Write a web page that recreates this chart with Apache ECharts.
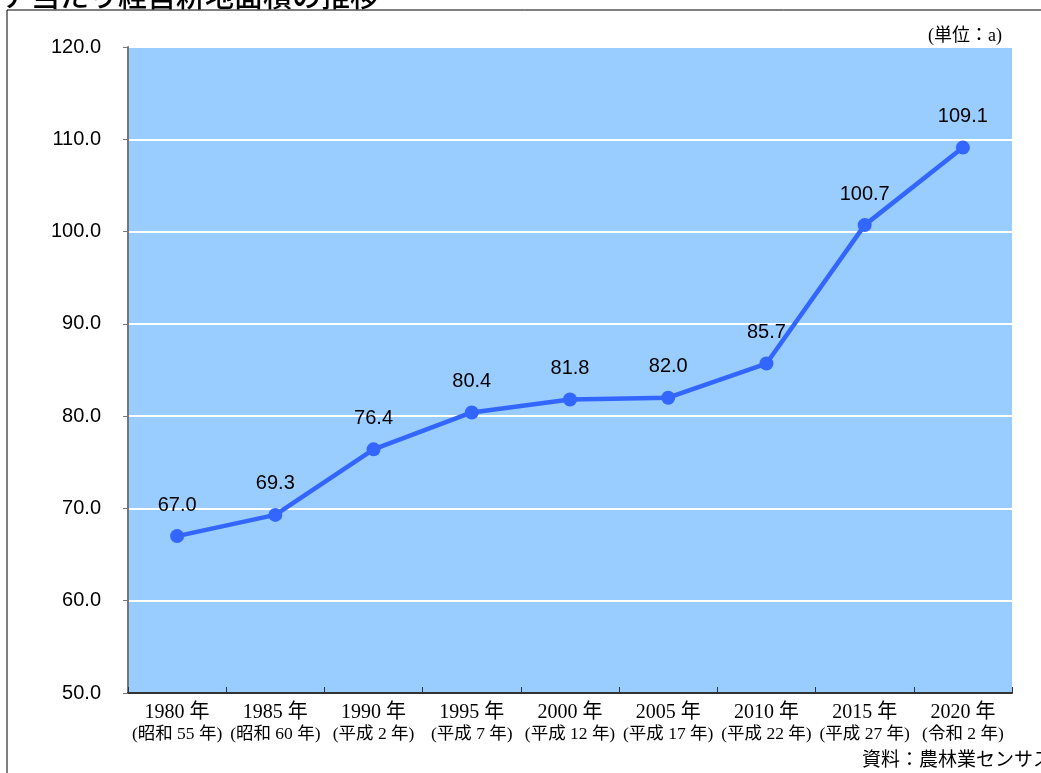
<!DOCTYPE html>
<html>
<head>
<meta charset="utf-8">
<script src="https://cdn.jsdelivr.net/npm/echarts@6/dist/echarts.min.js"></script>
<style>
  html, body { margin: 0; padding: 0; background: #fff; overflow: hidden; }
  #main { width: 1041px; height: 773px; }
</style>
</head>
<body>
<div id="main"></div>
<script>
// 1経営体当たり経営耕地面積の推移 (単位: a)
var years = ['1980 年', '1985 年', '1990 年', '1995 年', '2000 年', '2005 年', '2010 年', '2015 年', '2020 年']
var eras = ['(昭和 55 年)', '(昭和 60 年)', '(平成 2 年)', '(平成 7 年)', '(平成 12 年)', '(平成 17 年)', '(平成 22 年)', '(平成 27 年)', '(令和 2 年)']
var area = [67.0, 69.3, 76.4, 80.4, 81.8, 82.0, 85.7, 100.7, 109.1]

var categories = years.map(function (y, i) { return y + '\n' + eras[i] })

var chart = echarts.init(document.getElementById('main'))
var serif = '"Liberation Serif", "DejaVu Serif", "Noto Sans CJK JP", serif'
var sans = 'Arial, "Liberation Sans", "Noto Sans CJK JP", sans-serif'

var option = {
  animation: false,
  backgroundColor: '#fff',
  graphic: [
    {
      type: 'rect',
      shape: { x: 7, y: 10, width: 1100, height: 800 },
      style: { fill: 'none', stroke: '#000', lineWidth: 1 }
    },
    {
      type: 'text',
      left: 2,
      top: -19,
      style: { text: 'ア当たり経営耕地面積の推移', font: '500 29px "Noto Sans CJK JP", sans-serif', fill: '#000' }
    },
    {
      type: 'text',
      left: 928,
      top: 27,
      style: { text: '(単位：a)', font: '18px ' + serif, fill: '#000' }
    },
    {
      type: 'text',
      left: 862,
      top: 752,
      style: { text: '資料：農林業センサス', font: '19px ' + serif, fill: '#000' }
    }
  ],
  grid: {
    left: 128,
    right: 29,
    top: 47,
    bottom: 80,
    show: true,
    backgroundColor: '#99ccff',
    borderWidth: 0
  },
  xAxis: {
    type: 'category',
    data: categories,
    boundaryGap: true,
    axisLine: { lineStyle: { color: '#333', width: 2 } },
    axisTick: { show: true, inside: true, length: 6, lineStyle: { color: '#333' } },
    axisLabel: {
      interval: 0,
      margin: 9,
      color: '#000',
      fontFamily: serif,
      fontSize: 20,
      lineHeight: 22,
      formatter: function (v) {
        var p = v.split('\n')
        return p[0] + '\n{b|' + p[1] + '}'
      },
      rich: {
        b: { fontSize: 17.5, fontFamily: serif, color: '#000', lineHeight: 21 }
      }
    }
  },
  yAxis: {
    type: 'value',
    min: 50,
    max: 120,
    interval: 10,
    axisLine: { show: true, lineStyle: { color: '#777', width: 2 } },
    axisTick: { show: true, length: 5, lineStyle: { color: '#777' } },
    splitLine: { show: true, lineStyle: { color: '#fff', width: 2 } },
    axisLabel: {
      margin: 27,
      color: '#000',
      fontFamily: sans,
      fontSize: 20,
      formatter: function (v) { return v.toFixed(1) }
    }
  },
  series: [{
    type: 'line',
    data: area,
    symbol: 'circle',
    symbolSize: 14,
    lineStyle: { color: '#3366ff', width: 4.5 },
    itemStyle: { color: '#3366ff' },
    label: {
      show: true,
      position: 'top',
      distance: 14,
      color: '#000',
      fontFamily: sans,
      fontSize: 20,
      formatter: function (p) { return p.value.toFixed(1) }
    }
  }]
}
chart.setOption(option)
</script>
</body>
</html>
